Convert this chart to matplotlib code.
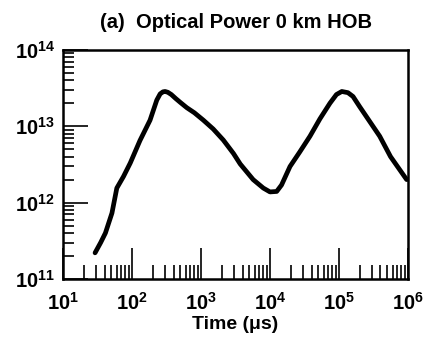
"""Optical power vs time, 0 km HOB."""

import matplotlib
matplotlib.use("Agg")
import matplotlib.pyplot as plt
from matplotlib.ticker import LogLocator, NullFormatter

# values (time in us, power in W)
time_us = [29, 35, 41, 51, 60, 75, 94, 130, 182, 228, 255, 280, 301, 330, 370,
           430, 500, 620, 800, 1080, 1500, 2100, 2950, 3700, 5700, 8000, 10000,
           12500, 14700, 19500, 27000, 38000, 53000, 74000, 92000, 110000,
           135000, 160000, 200000, 280000, 390000, 560000, 960000]
power_w = [2.2e11, 3.0e11, 4.0e11, 7.3e11, 1.55e12, 2.2e12, 3.3e12, 6.5e12,
           1.2e13, 2.2e13, 2.65e13, 2.82e13, 2.85e13, 2.78e13, 2.6e13,
           2.3e13, 2.05e13, 1.75e13, 1.5e13, 1.2e13, 9.2e12, 6.6e12, 4.4e12,
           3.2e12, 2.0e12, 1.55e12, 1.38e12, 1.4e12, 1.7e12, 2.97e12, 4.6e12,
           7.4e12, 1.25e13, 2.0e13, 2.6e13, 2.85e13, 2.75e13, 2.45e13, 1.8e13,
           1.15e13, 7.4e12, 4.0e12, 2.0e12]

plt.rcParams["font.family"] = ["Liberation Sans", "DejaVu Sans"]
plt.rcParams["font.weight"] = "bold"

fig = plt.figure(figsize=(4.24, 3.39), dpi=100)
ax = fig.add_axes([0.149, 0.177, 0.813, 0.676])

ax.plot(time_us, power_w, color="black", linewidth=3.4, solid_capstyle="round",
        solid_joinstyle="round")

ax.set_xscale("log")
ax.set_yscale("log")
ax.set_xlim(10, 1e6)
ax.set_ylim(1e11, 1e14)

ax.xaxis.set_major_locator(LogLocator(base=10, numticks=10))
ax.xaxis.set_minor_locator(LogLocator(base=10, subs=range(2, 10), numticks=100))
ax.yaxis.set_major_locator(LogLocator(base=10, numticks=10))
ax.yaxis.set_minor_locator(LogLocator(base=10, subs=range(2, 10), numticks=100))
ax.xaxis.set_minor_formatter(NullFormatter())
ax.yaxis.set_minor_formatter(NullFormatter())

ax.tick_params(axis="both", which="both", direction="in", top=False, right=False,
               labelsize=14.5, width=1.2)
ax.tick_params(axis="x", which="major", length=22, pad=9)
ax.tick_params(axis="x", which="minor", length=10)
ax.tick_params(axis="y", which="major", length=18, pad=6)
ax.tick_params(axis="y", which="minor", length=8)

for s in ax.spines.values():
    s.set_linewidth(1.8)

ax.set_xlabel("Time (\u03bcs)", fontsize=14, fontweight="bold", labelpad=2)
ax.set_title("(a)  Optical Power 0 km HOB", fontsize=14.5, fontweight="bold", pad=16)

fig.savefig("out.png", dpi=100, facecolor="white")
